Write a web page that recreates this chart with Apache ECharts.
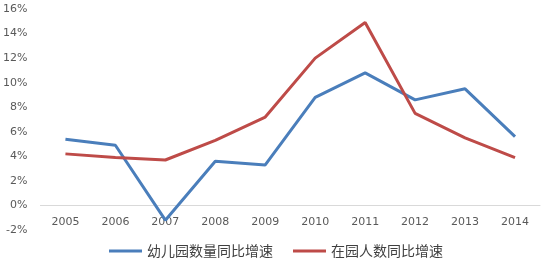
<!DOCTYPE html>
<html><head><meta charset="utf-8">
<script src="https://cdn.jsdelivr.net/npm/echarts@6/dist/echarts.min.js"></script>
<style>html,body{margin:0;padding:0;background:#fff}#c{width:552px;height:267px}</style>
</head><body><div id="c"></div>
<script>
const years = ['2005','2006','2007','2008','2009','2010','2011','2012','2013','2014'];
const kindergartenGrowth = [5.4, 4.9, -1.2, 3.6, 3.3, 8.8, 10.8, 8.6, 9.5, 5.6];
const enrollmentGrowth = [4.2, 3.9, 3.7, 5.3, 7.2, 12.0, 14.9, 7.5, 5.5, 3.9];
const seriesNames = ['幼儿园数量同比增速', '在园人数同比增速'];
const chart = echarts.init(document.getElementById('c'));
const gridTop = 9, gridBottom = 37, H = 267;
const plotH = H - gridTop - gridBottom;
const zeroOffset = -plotH * 2 / 18;
chart.setOption({
  animation: false,
  grid: {left: 40, right: 12, top: gridTop, bottom: gridBottom},
  legend: {
    bottom: 4, left: 'center', itemWidth: 33, itemHeight: 14, itemGap: 20,
    icon: 'path://M0,6 L33,6 L33,9 L0,9 Z',
    textStyle: {fontSize: 14, color: '#404040', fontFamily: 'Noto Sans CJK SC'},
    data: seriesNames
  },
  xAxis: {
    type: 'category', data: years, boundaryGap: true, offset: zeroOffset,
    axisLine: {onZero: false, lineStyle: {color: '#d9d9d9', width: 1}},
    axisTick: {show: false},
    axisLabel: {color: '#595959', fontSize: 11, margin: 11, fontFamily: 'DejaVu Sans'}
  },
  yAxis: {
    type: 'value', min: -2, max: 16, interval: 2,
    splitLine: {show: false}, axisLine: {show: false}, axisTick: {show: false},
    axisLabel: {color: '#595959', fontSize: 11, formatter: '{value}%', margin: 13, fontFamily: 'DejaVu Sans'}
  },
  series: [
    {name: seriesNames[0], type: 'line', data: kindergartenGrowth, symbol: 'none',
     lineStyle: {color: '#4a7ebb', width: 3}, itemStyle: {color: '#4a7ebb'}},
    {name: seriesNames[1], type: 'line', data: enrollmentGrowth, symbol: 'none',
     lineStyle: {color: '#be4b48', width: 3}, itemStyle: {color: '#be4b48'}}
  ]
});
</script></body></html>
